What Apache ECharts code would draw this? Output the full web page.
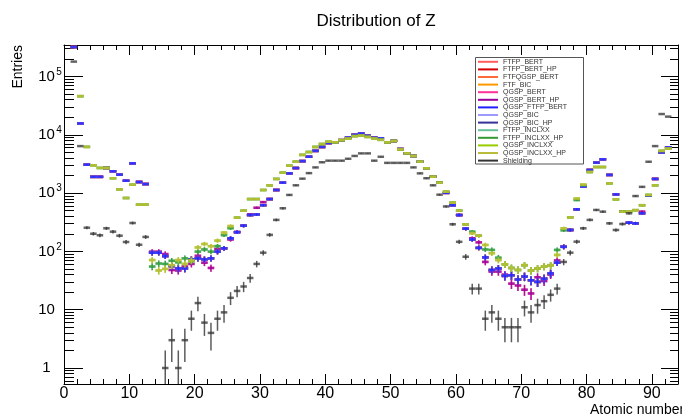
<!DOCTYPE html>
<html>
<head>
<meta charset="utf-8">
<script src="https://cdn.jsdelivr.net/npm/echarts@6/dist/echarts.min.js"></script>
<style>
  html, body { margin: 0; padding: 0; background: #fff; }
  #chart { width: 682px; height: 418px; }
</style>
</head>
<body>
<div id="chart"></div>
<script>
// bin low edge = atomic number Z (bins are [Z, Z+1))
const zBins = [
  1, 2, 3, 4, 5, 6, 7, 8, 9, 10,
  11, 12, 13, 14, 15, 16, 17, 18, 19, 20,
  21, 22, 23, 24, 25, 26, 27, 28, 29, 30,
  31, 32, 33, 34, 35, 36, 37, 38, 39, 40,
  41, 42, 43, 44, 45, 46, 47, 48, 49, 50,
  51, 52, 53, 54, 55, 56, 57, 58, 59, 60,
  61, 62, 63, 64, 65, 66, 67, 68, 69, 70,
  71, 72, 73, 74, 75, 76, 77, 78, 79, 80,
  81, 82, 83, 84, 85, 86, 87, 88, 89, 90,
  91, 92
]

// Bertini / BIC style lists (blue ones)
const bertBlue = [
  320000, 15700, 3070, 1900, 1900, 2700, 2370, 2070, 1630, 3240,
  1550, 1430, 95, 95, 83, 56, 51, 51, 73, 76,
  73, 76, 99, 113, 168, 214, 276, 420, 430, 620,
  790, 1130, 1510, 2180, 2690, 3540, 4200, 5300, 6190, 7230,
  7450, 8100, 8950, 10000, 10500, 9600, 8900, 8700, 7430, 7830,
  5700, 4820, 4330, 3460, 2660, 1910, 1510, 1010, 620, 420,
  245, 160, 115, 79, 48, 51, 38, 39, 33, 37,
  32, 30, 34, 42, 64, 120, 233, 527, 1300, 2490,
  3330, 3800, 2050, 950, 480, 310, 303, 450, 900, 1750,
  5000, 6100
]

// QGSP_BERT(_HP), pink / purple
const bertPink = [
  320000, 15700, 3070, 1900, 1900, 2700, 2370, 2070, 1630, 3240,
  1550, 1430, 99, 99, 90, 48, 47, 55, 61, 84,
  64, 52, 110, 113, 160, 214, 276, 433, 560, 700,
  790, 1130, 1510, 2180, 2690, 3540, 4200, 5300, 6190, 7230,
  7450, 8100, 8950, 10000, 10500, 9600, 8900, 8700, 7430, 7830,
  5700, 4820, 4330, 3460, 2660, 1910, 1510, 1010, 620, 420,
  245, 168, 143, 66, 45, 45, 40, 28, 26, 22,
  19, 36, 31, 40, 70, 120, 233, 527, 1300, 2490,
  3330, 3800, 2050, 950, 480, 310, 303, 480, 900, 1750,
  5000, 6100
]

// QGSP_INCLXX(_HP), yellow-green / olive (Z=1 is above the frame)
const inclOlive = [
  400000, 46000, 6200, 3000, 2700, 2700, 1800, 1160, 824, 1390,
  632, 632, 71, 47, 50, 58, 71, 61, 70, 117,
  134, 123, 153, 210, 272, 378, 498, 790, 790, 1130,
  1360, 1750, 2240, 2950, 3460, 4520, 5070, 6190, 6950, 7600,
  7450, 8100, 8600, 9500, 9700, 9200, 8600, 8200, 7430, 7830,
  5600, 4820, 4330, 3460, 2660, 1910, 1510, 1060, 686, 499,
  290, 205, 186, 129, 93, 71, 60, 52, 48, 58,
  47, 51, 55, 58, 87, 249, 383, 810, 1400, 2300,
  2800, 2800, 1470, 780, 480, 480, 510, 620, 930, 1360,
  5300, 5800
]

// FTFP_INCLXX(_HP), teal / green
const inclTeal = [
  400000, 46000, 6200, 3000, 2700, 2700, 1800, 1160, 824, 1390,
  632, 632, 55, 62, 61, 69, 65, 76, 68, 99,
  108, 99, 123, 190, 250, 378, 498, 790, 790, 1130,
  1360, 1750, 2240, 2950, 3460, 4520, 5070, 6190, 6950, 7600,
  7450, 8100, 8600, 9500, 9700, 9200, 8600, 8200, 7430, 7830,
  5600, 4820, 4330, 3460, 2660, 1910, 1510, 1060, 686, 499,
  290, 218, 186, 108, 106, 78, 60, 52, 48, 58,
  47, 51, 55, 58, 106, 230, 383, 760, 1370, 2300,
  2800, 2800, 1470, 780, 480, 480, 510, 620, 930, 1360,
  5300, 5800
]

const shielding = [
  180000, 6400, 255, 201, 189, 249, 218, 186, 145, 307,
  130, 177, null, null, 1, 3, 1, 3, 7, 13,
  6, 4, 7, 9, 16, 21, 25, 35, 61, 95,
  192, 347, 549, 930, 1360, 1770, 2200, 2760, 3380, 3600,
  3600, 3600, 3880, 4340, 4800, 4800, 3600, 4200, 3300, 3300,
  3300, 3300, 2760, 2180, 1800, 1360, 940, 590, 292, 146,
  81, 23, 23, 7, 9, 7, 5, 5, 5, 11,
  9, 12, 14, 18, 23, 66, 95, 147, 249, 347,
  514, 480, 303, 233, 295, 450, 890, 1280, 3450, 6400,
  22700, 20500
]

const listNames = ['FTFP_BERT', 'FTFP_BERT_HP', 'FTFQGSP_BERT', 'FTF_BIC', 'QGSP_BERT', 'QGSP_BERT_HP',
  'QGSP_FTFP_BERT', 'QGSP_BIC', 'QGSP_BIC_HP', 'FTFP_INCLXX', 'FTFP_INCLXX_HP', 'QGSP_INCLXX',
  'QGSP_INCLXX_HP', 'Shielding']
const listValues = [bertBlue, bertBlue, bertBlue, bertBlue, bertPink, bertPink,
  bertBlue, bertBlue, bertBlue, inclTeal, inclTeal, inclOlive, inclOlive, shielding]
const listColors = ['#ff5c5c', '#d40000', '#ff6a3d', '#ff9900', '#ff3399', '#990099',
  '#1f1fff', '#9a9aff', '#333399', '#66c199', '#339933', '#99cc00', '#bcbc3c', '#333333']
// painting order (later ones end up on top)
const drawOrder = [0, 1, 2, 3, 4, 5, 8, 7, 6, 9, 10, 11, 12, 13]

const xTicks = [0, 10, 20, 30, 40, 50, 60, 70, 80, 90]
const xMinorTicks = [2, 4, 6, 8, 12, 14, 16, 18, 22, 24, 26, 28, 32, 34, 36, 38, 42, 44, 46, 48,
  52, 54, 56, 58, 62, 64, 66, 68, 72, 74, 76, 78, 82, 84, 86, 88, 92]
const yTicks = [1, 10, 100, 1000, 10000, 100000]

const FONT = 'Liberation Sans, Arial, Helvetica, sans-serif'
const X_MIN = 0, X_MAX = 94
const Y_MIN = 0.5316, Y_MAX = 347000

// log minor ticks 2..9 in every decade
let yMinorTicks = []
for (let d = 0.1; d < 1e6; d *= 10) {
  for (let m = 2; m <= 9; m++) {
    const v = +(m * d).toPrecision(3)
    if (v > Y_MIN && v < Y_MAX) yMinorTicks.push(v)
  }
}

function renderBin(params, api) {
  const z = api.value(0)
  const v = api.value(1)
  if (!(v > 0)) return
  const left = api.coord([z, v])
  const right = api.coord([z + 1, v])
  const err = Math.sqrt(v)
  const hi = api.coord([z + 0.5, v + err])
  const lo = api.coord([z + 0.5, Math.max(v - err, Y_MIN)])
  const color = api.visual('color')
  return {
    type: 'group',
    children: [
      {type: 'line', shape: {x1: left[0], y1: left[1], x2: right[0], y2: right[1]},
        style: {stroke: color, lineWidth: 2.5, opacity: 0.75}},
      {type: 'line', shape: {x1: hi[0], y1: hi[1], x2: lo[0], y2: lo[1]},
        style: {stroke: color, lineWidth: 1.5, opacity: 0.8}}
    ]
  }
}

function xAxisDef(position, ticks, len, main) {
  return {
    type: 'value', position: position, min: X_MIN, max: X_MAX,
    axisLine: {show: main, onZero: false, lineStyle: {color: '#000', width: 1}},
    axisTick: {inside: true, length: len, customValues: ticks, lineStyle: {color: '#000', width: 1}},
    axisLabel: position === 'bottom' && main
      ? {customValues: xTicks, fontSize: 16, color: '#000', margin: 2, fontFamily: FONT}
      : {show: false},
    splitLine: {show: false}
  }
}

function yAxisDef(position, ticks, len, main) {
  return {
    type: 'log', position: position, min: Y_MIN, max: Y_MAX,
    axisLine: {show: main, onZero: false, lineStyle: {color: '#000', width: 1}},
    axisTick: {inside: true, length: len, customValues: ticks, lineStyle: {color: '#000', width: 1}},
    axisLabel: position === 'left' && main ? {
      customValues: yTicks, margin: 1,
      formatter: function (v) {
        const e = Math.round(Math.log10(v))
        return e < 2 ? '{b|' + Math.round(v) + '}{s| }' : '{b|10}{s|' + e + '}'
      },
      rich: {
        b: {fontSize: 15, width: 17, align: 'right', color: '#000', fontFamily: FONT},
        s: {fontSize: 10, width: 8, align: 'left', color: '#000', fontFamily: FONT, padding: [0, 0, 9, 0]}
      }
    } : {show: false},
    splitLine: {show: false}
  }
}

const series = drawOrder.map(function (i) {
  return {
    name: listNames[i],
    type: 'custom',
    xAxisIndex: 0,
    yAxisIndex: 0,
    clip: true,
    itemStyle: {color: listColors[i]},
    renderItem: renderBin,
    encode: {x: 0, y: 1},
    data: zBins.map(function (z, k) { return [z, listValues[i][k]] })
  }
})

const option = {
  animation: false,
  backgroundColor: '#fff',
  title: {
    text: 'Distribution of Z', left: 371, top: 8, textAlign: 'center',
    textStyle: {fontSize: 17, fontWeight: 'normal', color: '#000', fontFamily: FONT}
  },
  grid: {left: 64, right: 4, top: 45, bottom: 34},
  xAxis: [
    xAxisDef('bottom', xTicks, 10, true),
    xAxisDef('bottom', xMinorTicks, 5, false),
    xAxisDef('top', xTicks, 10, true),
    xAxisDef('top', xMinorTicks, 5, false)
  ],
  yAxis: [
    yAxisDef('left', yTicks, 19, true),
    yAxisDef('left', yMinorTicks, 10, false),
    yAxisDef('right', yTicks, 17, true),
    yAxisDef('right', yMinorTicks, 8, false)
  ],
  legend: {
    orient: 'vertical', left: 478, top: 58, padding: 0, itemGap: 0,
    itemWidth: 20, itemHeight: 2, z: 10, selectedMode: false,
    data: listNames.map(function (n) { return {name: n, icon: 'rect'} }),
    textStyle: {fontSize: 7, lineHeight: 7.6, color: '#333', fontFamily: FONT}
  },
  graphic: [
    {type: 'rect', z: 5, shape: {x: 475.5, y: 57.5, width: 108, height: 106.5},
      style: {fill: '#fff', stroke: '#555', lineWidth: 1}},
    {type: 'text', x: 18.5, y: 45, rotation: Math.PI / 2,
      style: {text: 'Entries', fontSize: 14, fill: '#000', fontFamily: FONT, align: 'right', verticalAlign: 'middle'}},
    {type: 'text', x: 590, y: 403,
      style: {text: 'Atomic number', fontSize: 14, fill: '#000', fontFamily: FONT, align: 'left', verticalAlign: 'top'}}
  ],
  series: series
}

const chart = echarts.init(document.getElementById('chart'))
chart.setOption(option)
</script>
</body>
</html>
